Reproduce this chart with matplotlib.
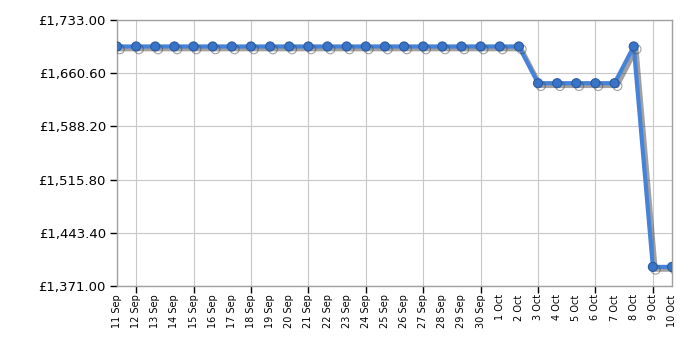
import matplotlib
matplotlib.use("Agg")
import matplotlib.pyplot as plt
import matplotlib.patheffects as pe
import numpy as np

dates = ["11 Sep", "12 Sep", "13 Sep", "14 Sep", "15 Sep", "16 Sep", "17 Sep", "18 Sep",
         "19 Sep", "20 Sep", "21 Sep", "22 Sep", "23 Sep", "24 Sep", "25 Sep", "26 Sep",
         "27 Sep", "28 Sep", "29 Sep", "30 Sep", "1 Oct", "2 Oct", "3 Oct", "4 Oct",
         "5 Oct", "6 Oct", "7 Oct", "8 Oct", "9 Oct", "10 Oct"]
prices = [1696.99] * 22 + [1646.99] * 5 + [1696.99, 1396.99, 1396.99]
y_ticks = [1371.00, 1443.40, 1515.80, 1588.20, 1660.60, 1733.00]

fig = plt.figure(figsize=(7, 3.5), dpi=100)
ax = fig.add_axes([117/700, (350-286)/350, (672-117)/700, (286-20)/350])

x = np.arange(len(dates))
ax.plot(x, prices, color="#4683d8", lw=3, marker="o", ms=6.5,
        markerfacecolor="#3a74c8", markeredgecolor="#2a5a9e", markeredgewidth=0.8,
        solid_joinstyle="round", zorder=3,
        path_effects=[pe.SimpleLineShadow(offset=(2, -2), shadow_color="#444444", alpha=0.5),
                      pe.Normal()])

ax.set_xlim(0, len(dates) - 1)
ax.set_ylim(y_ticks[0], y_ticks[-1])
ax.set_yticks(y_ticks)
ax.set_yticklabels([f"£{v:,.2f}" for v in y_ticks], fontsize=9.5, fontfamily="DejaVu Sans")
ax.tick_params(axis="y", length=5, width=1, color="black", pad=3)

ax.xaxis.remove_overlapping_locs = False
ax.set_xticks(x)
ax.set_xticklabels(dates, rotation=90, fontsize=7, va="top", ha="center")
ax.tick_params(axis="x", which="major", length=0, pad=6)
ax.set_xticks(x[1::3], minor=True)
ax.tick_params(axis="x", which="minor", length=5, width=1, color="black")

ax.grid(True, axis="y", color="#c8c8c8", lw=0.8)
ax.grid(True, axis="x", which="minor", color="#c8c8c8", lw=0.8)
ax.set_axisbelow(True)
for s in ax.spines.values():
    s.set_color("#a0a0a0")
    s.set_linewidth(1)

fig.savefig("out.png", dpi=100)
